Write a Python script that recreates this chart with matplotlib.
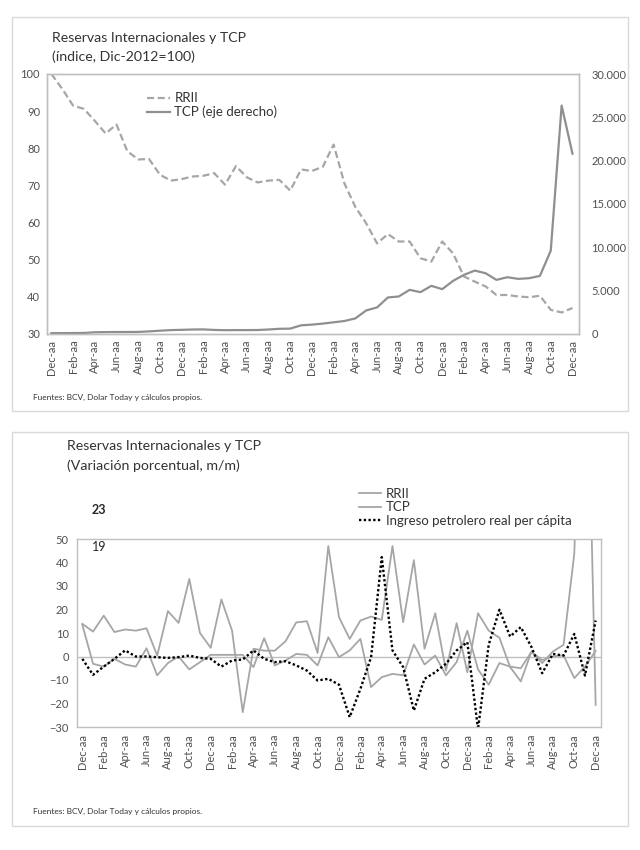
import numpy as np
import matplotlib.pyplot as plt
from matplotlib.patches import Rectangle
from matplotlib.lines import Line2D
from matplotlib.ticker import FuncFormatter

plt.rcParams['font.family'] = ['Lato', 'DejaVu Sans']

# etiquetas del eje x (cada dos meses, Dic a Dic)
tick_labels = ['Dec-aa', 'Feb-aa', 'Apr-aa', 'Jun-aa', 'Aug-aa', 'Oct-aa'] * 4 + ['Dec-aa']

# panel superior: indice RRII (Dic-2012=100) y TCP en nivel (eje derecho)
rrii_idx = [100, 96, 91.5, 90.6, 87.4, 84, 86.4, 79.2, 77, 77.1,
            72.9, 71.3, 71.7, 72.4, 72.6, 73.3, 70.2, 75.2, 72.2, 70.8,
            71.3, 71.5, 68.6, 74.3, 73.9, 75, 81, 70.5, 64.2, 59.8,
            54.4, 56.9, 54.9, 54.9, 50.4, 49.5, 54.9, 51.7, 45.5, 44.1,
            42.8, 40.5, 40.5, 40.1, 39.9, 40.3, 36.5, 35.8, 37.0]
tcp_lvl = [100, 100, 110, 120, 200, 220, 230, 230, 240, 300,
           380, 450, 480, 520, 530, 470, 440, 450, 450, 460,
           520, 600, 620, 1000, 1080, 1200, 1350, 1500, 1800, 2720,
           3065, 4215, 4330, 5096, 4828, 5556, 5172, 6130, 6820, 7318,
           7011, 6245, 6552, 6360, 6437, 6705, 9617, 26360, 20805]

# panel inferior: variacion porcentual m/m
rrii_var = [13.5, -3.1, -4.3, -1, -3.4, -4.3, 3.5, -8, -2.8, 0,
            -5.5, -2.4, 0.7, 0.7, 0.7, 0.7, -4.5, 7.8, -3.8, -1.7,
            1.1, 0.7, -3.8, 8.2, -0.3, 2.6, 7.5, -13, -8.8, -7.4,
            -8, 5.1, -3.4, 0.4, -8, -2.4, 11, -5.5, -12, -2.8,
            -4.3, -5, 2, -1.5, 0, 0.5, -9.2, -4.3, 2.4]
tcp_var = [13.9, 10.6, 17.4, 10.4, 11.5, 11, 12, 0.4, 19.3, 14.3,
           33, 10, 3.7, 24.3, 11, -23.7, 3.3, 2.5, 2.5, 6.5,
           14.5, 15, 1.5, 47, 16.7, 7.5, 15.3, 17, 15.6, 47,
           14.6, 41, 3.3, 18.4, -6, 14.2, -6.7, 18.4, 11, 8,
           -4.5, -10.6, 2.1, -2.8, 2.1, 5, 43.7, 174, -20.6]
petro_var = [-1, -7.8, -4.3, -1, 2.6, 0, 0, -0.3, -0.6, -0.3,
             0.4, -0.6, -1, -4.3, -1.7, -1.3, 2.6, -1, -2.4, -2,
             -3.8, -6, -10.2, -9.5, -12, -25.8, -13.8, -0.3, 42.3, 2.6,
             -4.5, -23, -9.5, -6.7, -3.1, 2.6, 6.1, -31, 5, 19.9,
             8.5, 12.5, 4, -7.1, 1.1, 0.4, 9.6, -8.1, 15.3]

txt = '#333333'
axc = '#505050'
border = '#d9d9d9'

fig = plt.figure(figsize=(6.4, 8.5), dpi=100)
W, H = 640, 850


def fx(px):
    return px / W


def fy(py):
    return 1 - py / H


# marcos de cada grafico
for top, bot in [(17, 411), (432, 826)]:
    fig.patches.append(Rectangle((fx(12), fy(bot)), fx(628) - fx(12), fy(top) - fy(bot),
                                 transform=fig.transFigure, fill=False,
                                 edgecolor=border, lw=1))

# ---- grafico superior ----
x = np.arange(len(rrii_idx))
ax1 = fig.add_axes([fx(47), fy(334), fx(579) - fx(47), fy(74) - fy(334)])
ax1.plot(x, rrii_idx, color='#a6a6a6', lw=1.6, ls=(0, (3.2, 1.6)))
ax1.set_ylim(30, 100)
ax1.set_yticks(range(30, 101, 10))
ax1.set_xlim(-0.4, 48.6)
ax1.set_xticks(x[::2])
ax1.set_xticklabels(tick_labels, rotation=90)
ax2 = ax1.twinx()
ax2.plot(x, tcp_lvl, color='#8f8f8f', lw=1.6)
ax2.set_ylim(0, 30000)
ax2.set_yticks(range(0, 30001, 5000))
ax2.yaxis.set_major_formatter(FuncFormatter(lambda v, p: f'{int(v):,}'.replace(',', '.')))
for a in (ax1, ax2):
    for s in a.spines.values():
        s.set_color('#bfbfbf')
        s.set_linewidth(1)
ax1.tick_params(length=0, colors=axc, labelsize=8)
ax1.tick_params(axis='y', pad=5)
ax1.tick_params(axis='x', pad=4)
ax2.tick_params(length=0, colors=axc, labelsize=8, pad=9)
h1 = [Line2D([], [], color='#a6a6a6', lw=1.6, ls=(0, (3.2, 1.6))),
      Line2D([], [], color='#8f8f8f', lw=1.6)]
ax2.legend(h1, ['RRII', 'TCP (eje derecho)'], loc='upper left',
           bbox_to_anchor=(0.175, 0.955), frameon=False, fontsize=9.5,
           handlelength=1.8, handletextpad=0.3, labelspacing=0.1,
           borderpad=0, labelcolor=txt)

fig.text(fx(52), fy(38), 'Reservas Internacionales y TCP', fontsize=10.2, color=txt, va='center')
fig.text(fx(52), fy(57), '(índice, Dic-2012=100)', fontsize=10.2, color=txt, va='center')
fig.text(fx(33), fy(397), 'Fuentes: BCV, Dolar Today y cálculos propios.', fontsize=6,
         color=txt, va='center')

# ---- grafico inferior ----
ax3 = fig.add_axes([fx(77), fy(727), fx(601) - fx(77), fy(539) - fy(727)])
ax3.axhline(0, color='#bfbfbf', lw=1)
ax3.plot(x, rrii_var, color='#a6a6a6', lw=1.3)
ax3.plot(x, tcp_var, color='#a6a6a6', lw=1.3)
ax3.plot(x, petro_var, color='black', lw=1.7, ls=(0, (1, 1)))
ax3.set_ylim(-30, 50)
ax3.set_yticks(range(-30, 51, 10))
ax3.set_xlim(-0.5, 48.5)
ax3.set_xticks(x[::2])
ax3.set_xticklabels(tick_labels, rotation=90)
for s in ax3.spines.values():
    s.set_color('#bfbfbf')
    s.set_linewidth(1)
ax3.tick_params(length=0, colors=axc, labelsize=8)
ax3.tick_params(axis='y', pad=6)
ax3.tick_params(axis='x', pad=5)
h3 = [Line2D([], [], color='#a6a6a6', lw=1.3),
      Line2D([], [], color='#a6a6a6', lw=1.3),
      Line2D([], [], color='black', lw=1.7, ls=(0, (1, 1)))]
fig.legend(h3, ['RRII', 'TCP', 'Ingreso petrolero real per cápita'], loc='upper left',
           bbox_to_anchor=(fx(352), fy(481)), frameon=False, fontsize=9.5,
           handlelength=1.7, handletextpad=0.35, labelspacing=0.12,
           borderpad=0, labelcolor=txt)

fig.text(fx(67), fy(446), 'Reservas Internacionales y TCP', fontsize=10.2, color=txt, va='center')
fig.text(fx(67), fy(466), '(Variación porcentual, m/m)', fontsize=10.2, color=txt, va='center')
fig.text(fx(92), fy(510), '23', fontsize=9, color='#262626', va='center', fontweight='bold')
fig.text(fx(92), fy(547), '19', fontsize=9, color='#262626', va='center')
fig.text(fx(33), fy(811), 'Fuentes: BCV, Dolar Today y cálculos propios.', fontsize=6,
         color=txt, va='center')

fig.savefig('out.png', dpi=100)
